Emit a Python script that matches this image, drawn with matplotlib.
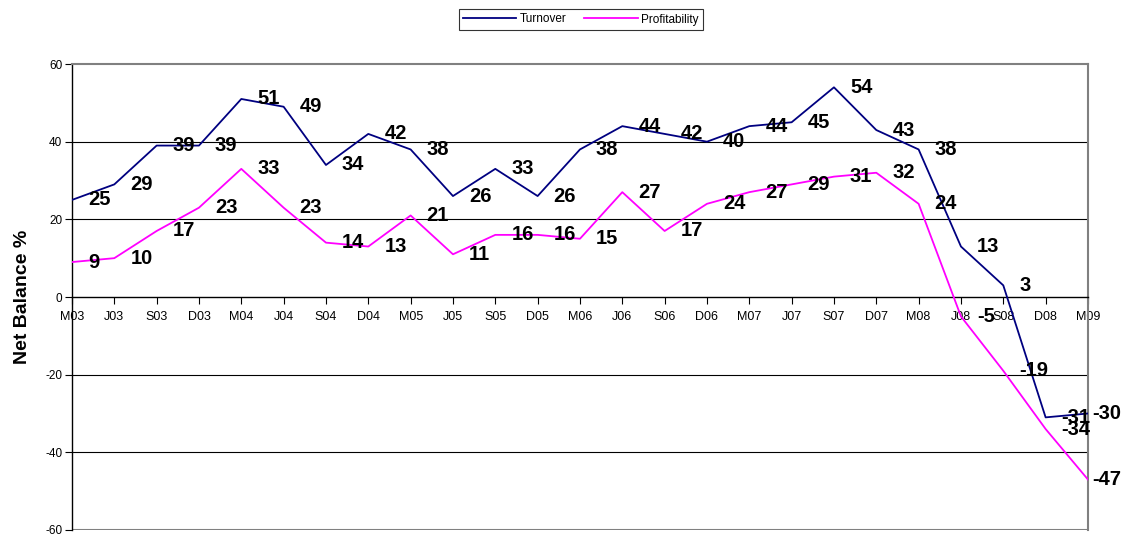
import matplotlib as mpl
import matplotlib.pyplot as plt

# Quarterly categories
quarters = ['M03', 'J03', 'S03', 'D03', 'M04', 'J04', 'S04', 'D04', 'M05', 'J05',
            'S05', 'D05', 'M06', 'J06', 'S06', 'D06', 'M07', 'J07', 'S07', 'D07',
            'M08', 'J08', 'S08', 'D08', 'M09']

# Net balance series
turnover = [25, 29, 39, 39, 51, 49, 34, 42, 38, 26, 33, 26, 38, 44, 42, 40, 44,
            45, 54, 43, 38, 13, 3, -31, -30]
profitability = [9, 10, 17, 23, 33, 23, 14, 13, 21, 11, 16, 16, 15, 27, 17, 24,
                 27, 29, 31, 32, 24, -5, -19, -34, -47]

y_ticks = [-60, -40, -20, 0, 20, 40, 60]

mpl.rcParams['font.family'] = ['Liberation Sans', 'DejaVu Sans']

fig = plt.figure(figsize=(11.28, 5.38), dpi=100, facecolor='white')
ax = fig.add_axes([0.0638, 0.0149, 0.9007, 0.8661])

x = list(range(len(quarters)))

# Grid lines
for v in [-40, -20, 20, 40]:
    ax.axhline(v, color='black', linewidth=0.8, zorder=1)

ax.plot(x, turnover, color='#000080', linewidth=1.3, label='Turnover', zorder=3)
ax.plot(x, profitability, color='#FF00FF', linewidth=1.3, label='Profitability', zorder=3)


# Data labels to the right of each point (last one squeezed against the frame)
def add_labels(axis, values):
    for xi, v in zip(x, values):
        dx = 4 if xi == len(values) - 1 else 16
        axis.annotate(str(v), (xi, v), xytext=(dx, 0), textcoords='offset pixels',
                      ha='left', va='center', fontsize=14.5, fontweight='bold',
                      zorder=4, annotation_clip=False)


add_labels(ax, turnover)
add_labels(ax, profitability)

ax.set_xlim(0, len(quarters) - 1)
ax.set_ylim(-60, 60)
ax.set_yticks(y_ticks)
ax.set_yticklabels([str(t) for t in y_ticks], fontsize=8.5)
ax.tick_params(axis='y', length=5, width=0.8, pad=2)

# Category axis crosses at zero
ax.spines['bottom'].set_position(('data', 0))
ax.spines['bottom'].set_linewidth(1.0)
ax.spines['left'].set_linewidth(1.0)
ax.spines['top'].set_color('#808080')
ax.spines['right'].set_color('#808080')
ax.spines['top'].set_linewidth(1.5)
ax.spines['right'].set_linewidth(1.5)
ax.set_xticks(x)
ax.set_xticklabels(quarters, fontsize=9)
ax.tick_params(axis='x', length=5, width=0.8, pad=5)

# Bottom frame line at -60
ax.axhline(-60, color='#808080', linewidth=1.5, zorder=2)

ax.set_ylabel('Net Balance %', fontsize=14, fontweight='bold', labelpad=10)

leg = fig.legend(loc='center', bbox_to_anchor=(581 / 1128, 1 - 19.5 / 538), ncol=2,
                 fontsize=8.5, frameon=True, fancybox=False, edgecolor='black',
                 handlelength=4.5, handletextpad=0.3, columnspacing=1.5,
                 borderpad=0.4)
leg.get_frame().set_linewidth(0.8)

fig.savefig('out.png', dpi=100)
